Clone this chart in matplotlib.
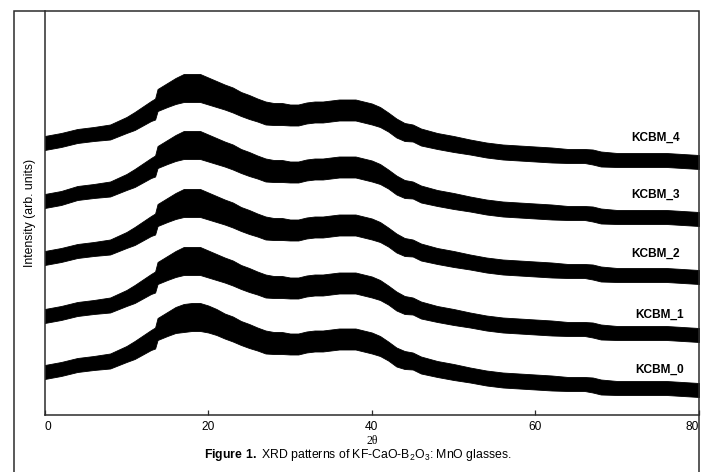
import matplotlib
matplotlib.use("Agg")
import matplotlib.pyplot as plt
from matplotlib.patches import Rectangle

# Diffraction angle grid (degrees 2-theta)
two_theta = [0, 2, 4, 6, 8, 10, 11, 12, 13, 13.5, 13.8, 15, 16, 17, 18, 19, 20,
             21, 22, 23, 24, 25, 26, 27, 28, 29, 30, 31, 32, 33, 34, 35, 36, 37,
             38, 39, 40, 41, 42, 43, 44, 45, 46, 48, 50, 52, 54, 56, 58, 60, 62,
             64, 66, 67, 68, 70, 72, 74, 76, 78, 80]

# Stacked intensity traces (arb. units, offset for display)
kcbm_4 = [272, 275, 279, 281, 283, 290, 294, 299, 304, 306, 315, 320, 324, 327,
          327, 327, 324, 321, 318, 315, 311, 308, 305, 302, 301, 301, 300, 300,
          302, 303, 303, 304, 305, 305, 305, 303, 301, 298, 293, 287, 283, 282,
          278, 274, 271, 268, 265, 263, 262, 261, 260, 259, 259, 258, 256, 255,
          255, 255, 255, 254, 253]
kcbm_3 = [214, 217, 222, 224, 226, 233, 237, 242, 247, 249, 258, 263, 267, 270,
          270, 270, 267, 264, 261, 258, 254, 251, 248, 245, 244, 244, 243, 243,
          245, 246, 246, 247, 248, 248, 248, 246, 244, 241, 236, 230, 226, 225,
          221, 217, 214, 211, 208, 206, 205, 204, 203, 202, 202, 201, 199, 198,
          198, 198, 198, 197, 196]
kcbm_2 = [157, 160, 164, 166, 168, 175, 179, 184, 189, 191, 200, 205, 209, 212,
          212, 212, 209, 206, 203, 200, 196, 193, 190, 187, 186, 186, 185, 185,
          187, 188, 188, 189, 190, 190, 190, 188, 186, 183, 178, 172, 168, 167,
          163, 159, 156, 153, 150, 148, 147, 146, 145, 144, 144, 143, 141, 140,
          140, 140, 140, 139, 138]
kcbm_1 = [99, 102, 106, 108, 110, 117, 121, 126, 131, 133, 142, 147, 151, 154,
          154, 154, 151, 148, 145, 142, 138, 135, 132, 129, 128, 128, 127, 127,
          129, 130, 130, 131, 132, 132, 132, 130, 128, 125, 120, 114, 110, 109,
          105, 101, 98, 95, 92, 90, 89, 88, 87, 86, 86, 85, 83, 82, 82, 82, 82,
          81, 80]
kcbm_0 = [43, 46, 50, 52, 54, 61, 65, 70, 75, 77, 86, 91, 95, 97, 98, 98, 96,
          93, 89, 86, 82, 79, 76, 73, 72, 72, 71, 71, 73, 74, 74, 75, 76, 76, 76,
          74, 72, 69, 64, 58, 55, 54, 50, 46, 43, 40, 37, 35, 34, 33, 32, 31, 31,
          30, 28, 27, 27, 27, 27, 26, 25]

# Half-width of the counting-noise band around each trace
band_half_width = [7, 7, 7, 7, 7.5, 8, 9, 9.5, 10, 10.5, 11, 12, 13, 14, 14, 14,
                   13.5, 13, 12.5, 12.5, 12, 12, 11.5, 11.5, 11, 11, 10.5, 10.5,
                   10.5, 10.5, 10.5, 10.5, 10.5, 10.5, 10.5, 10.5, 10.5, 10, 9.5,
                   9.5, 9, 8.5, 8.5, 8, 8, 7.5, 7.5, 7.5, 7.5, 7.5, 7.5, 7, 7,
                   7.5, 7.5, 7, 7, 7, 7, 7, 7]

sample_names = ["KCBM_0", "KCBM_1", "KCBM_2", "KCBM_3", "KCBM_4"]
traces = [kcbm_0, kcbm_1, kcbm_2, kcbm_3, kcbm_4]
name_x = [75.2, 75.2, 74.7, 74.7, 74.7]
name_y = [45, 100, 161, 220, 277]

x_ticks = [0, 20, 40, 60, 80]
x_tick_labels = ["0", "20", "40", "60", "80"]

plt.rcParams["font.family"] = ["Liberation Sans", "DejaVu Sans"]
plt.rcParams["mathtext.fontset"] = "custom"
plt.rcParams["mathtext.rm"] = "Liberation Sans"
plt.rcParams["mathtext.bf"] = "Liberation Sans:bold"

W, H = 706, 472
fig = plt.figure(figsize=(W / 100, H / 100), dpi=100)
fig.patch.set_facecolor("white")

# outer frame around the figure
frame = Rectangle((13.7 / W, -0.2), (699 - 13.7) / W, (H - 11) / H + 0.2,
                  transform=fig.transFigure, fill=False, edgecolor="#2b2b2b",
                  linewidth=1.1, zorder=0)
fig.patches.append(frame)

ax = fig.add_axes([44.7 / W, (H - 415) / H, (699 - 44.7) / W, (415 - 11) / H])
ax.set_xlim(0, 80)
ax.set_ylim(0, 404)

for trace in traces:
    lower = [c - h for c, h in zip(trace, band_half_width)]
    upper = [c + h for c, h in zip(trace, band_half_width)]
    ax.fill_between(two_theta, lower, upper, color="black", linewidth=0.6,
                    edgecolor="black")

for name, tx, ty in zip(sample_names, name_x, name_y):
    ax.text(tx, ty, name, ha="center", va="center", fontsize=8.6,
            fontweight="bold", color="black")

for side in ("top", "right"):
    ax.spines[side].set_visible(False)
for side in ("left", "bottom"):
    ax.spines[side].set_linewidth(1.1)
    ax.spines[side].set_color("#2b2b2b")

ax.set_yticks([])
ax.set_xticks(x_ticks)
ax.set_xticklabels(x_tick_labels)
ax.tick_params(axis="x", direction="in", length=3.5, width=0.9,
               labelsize=8.6, pad=4, colors="#2b2b2b", labelcolor="black")
tl = ax.get_xticklabels()
tl[0].set_horizontalalignment("left")
tl[-1].set_horizontalalignment("right")

ax.set_ylabel("Intensity (arb. units)", fontsize=8.8, labelpad=6)

# axis title and figure caption below the plot
fig.text(372 / W, 1 - 441 / H, "2\u03b8", ha="center", va="center",
         fontsize=8.5, family=["Liberation Serif", "DejaVu Serif"])
fig.text(358 / W, 1 - 455 / H,
         r"$\mathbf{Figure\ 1.}$ XRD patterns of KF-CaO-B$_2$O$_3$: MnO glasses.",
         ha="center", va="center", fontsize=8.8)

fig.savefig("out.png", dpi=100, facecolor="white")
